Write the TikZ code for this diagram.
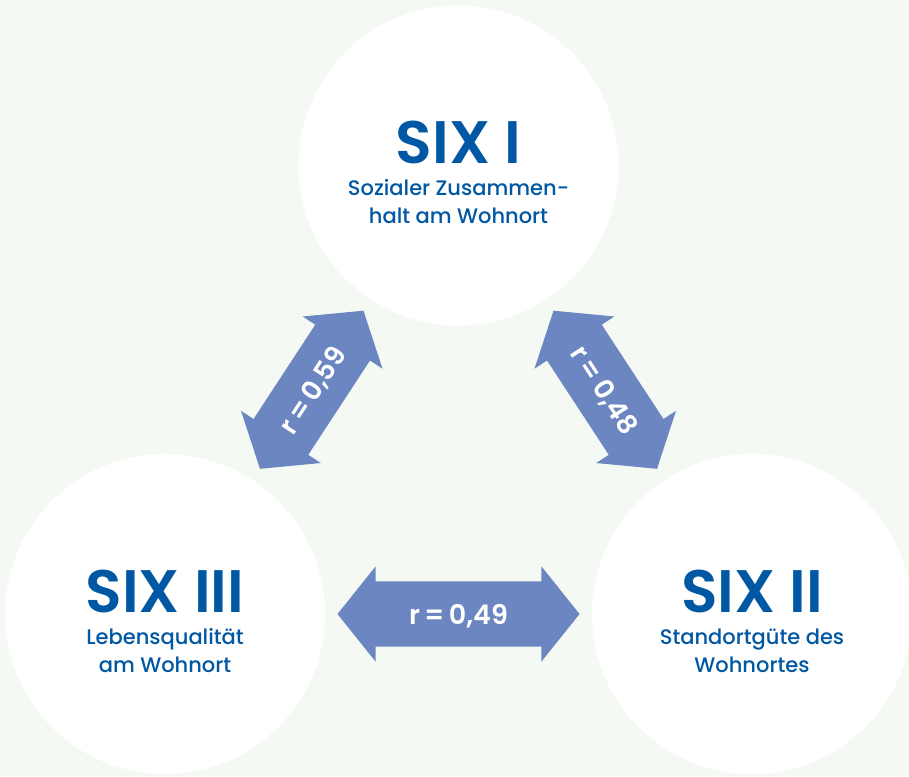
\documentclass[tikz,border=0pt]{standalone}
\usepackage{fontspec}
\setmainfont{Poppins}
\newfontfamily\sixheadfont{Poppins SemiBold}
\newfontfamily\sixrfont{Poppins Medium}
\usetikzlibrary{shapes.arrows}
\definecolor{sixblue}{HTML}{0057A3}
\definecolor{arrowblue}{HTML}{6C86C2}
\definecolor{bggreen}{HTML}{F5F9F3}
\begin{document}
\begin{tikzpicture}[
    x=1pt, y=-1pt,
    bubble/.style = {circle, fill=white, minimum size=320pt, inner sep=0pt},
    sixtext/.style = {text=sixblue, align=center, inner sep=0pt,
      font=\sixrfont\fontsize{21}{28}\selectfont},
    fatarrow/.style = {double arrow, fill=arrowblue, text=white, sloped,
      double arrow head extend=15pt, double arrow tip angle=102.7,
      inner xsep=0pt, inner ysep=0pt, text height=43pt, text depth=22pt,
      font=\sixheadfont\fontsize{27}{27}\selectfont}
  ]
  \begin{scope}
    %%+++++++++++++++++++++++++
    % Variables
    % Picture
    \pgfmathsetmacro{\Wpic}{909}
    \pgfmathsetmacro{\Hpic}{776}
    % Centres of the circles
    \pgfmathsetmacro{\xtop}{458.5}
    \pgfmathsetmacro{\ytop}{165.5}
    \pgfmathsetmacro{\xleft}{165}
    \pgfmathsetmacro{\xright}{752}
    \pgfmathsetmacro{\ybot}{614}
    % Shift of the texts
    \pgfmathsetmacro{\dtxt}{7}
    %%+++++++++++++++++++++++++
    % Drawing
    % Background
    \fill[bggreen] (0,0) rectangle (\Wpic,\Hpic);
    \useasboundingbox (0,0) rectangle (\Wpic,\Hpic);
    % Circles
    \node[bubble] (six1) at (\xtop,\ytop) {};
    \node[bubble] (six3) at (\xleft,\ybot) {};
    \node[bubble] (six2) at (\xright,\ybot) {};
    % Texts
    \node[sixtext] (six1 text) at (\xtop,\ytop+\dtxt)
      {{\sixheadfont\fontsize{60}{60}\selectfont SIX I}\\[4pt]
       Sozialer Zusammen-\\halt am Wohnort};
    \node[sixtext] (six3 text) at (\xleft,\ybot+\dtxt)
      {{\sixheadfont\fontsize{60}{60}\selectfont SIX III}\\[4pt]
       Lebensqualität\\am Wohnort};
    \node[sixtext] (six2 text) at (\xright,\ybot+\dtxt)
      {{\sixheadfont\fontsize{60}{60}\selectfont SIX II}\\[4pt]
       Standortgüte des\\Wohnortes};
    % Arrows
    \path (six3) -- node[fatarrow, minimum height=189pt] (r13) {r\,=\,0,59} (six1);
    \path (six1) -- node[fatarrow, minimum height=189pt] (r12) {r\,=\,0,48} (six2);
    \path (six3) -- node[fatarrow, minimum height=242pt] (r23) {r\,=\,0,49} (six2);
  \end{scope}
\end{tikzpicture}
\end{document}
